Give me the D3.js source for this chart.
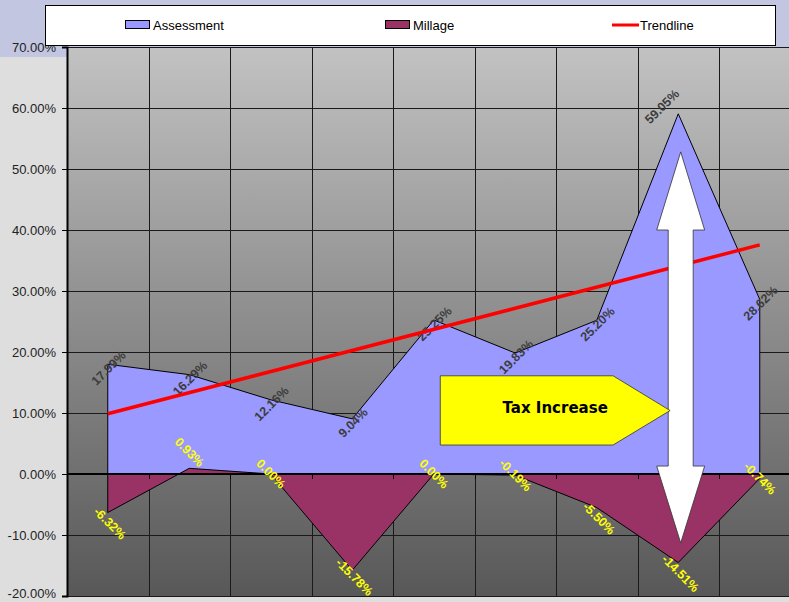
<!DOCTYPE html>
<html>
<head>
<meta charset="utf-8">
<script src="https://cdn.jsdelivr.net/npm/d3@7"></script>
<style>
  body { margin: 0; padding: 0; background: #c3c6e1; }
  svg { display: block; }
</style>
</head>
<body>
<div id="chart"></div>
<script>
// period index of each category (no labels are shown on the x axis)
const periods = [1, 2, 3, 4, 5, 6, 7, 8, 9];
// yearly change in %
const assessment = [17.99, 16.29, 12.16, 9.04, 25.25, 19.83, 25.20, 59.05, 28.62];
const millage = [-6.32, 0.93, 0.00, -15.78, 0.00, -0.19, -5.50, -14.51, -0.74];
// linear trendline of assessment, start and end values
const trendline = [9.87, 37.56];
const yTicks = [-20, -10, 0, 10, 20, 30, 40, 50, 60, 70];

// annotation shapes in data units (x: continuous category position, y: %)
const taxBox = [[4.58, 16.1], [6.70, 16.1], [7.40, 10.4], [6.70, 4.75], [4.58, 4.75]];
const taxLabel = {x: 5.99, y: 10.8, text: "Tax Increase"};
const bigArrow = {x: 7.53, shaft: 0.153, head: 0.294, top: 52.8, topBase: 40, bottomBase: 1.3, bottom: -11.3};

const W = 789, H = 602;
const margin = {top: 47, left: 67, bottom: 596, right: 800.5};

const svg = d3.select("#chart").append("svg")
    .attr("width", W)
    .attr("height", H);

// backgrounds
svg.append("rect").attr("width", W).attr("height", H).attr("fill", "#c3c6e1");
svg.append("rect").attr("x", 0).attr("y", 57).attr("width", W).attr("height", H - 57).attr("fill", "#dedede");

const defs = svg.append("defs");
const grad = defs.append("linearGradient").attr("id", "plotGrad")
    .attr("x1", 0).attr("y1", 0).attr("x2", 0).attr("y2", 1);
grad.append("stop").attr("offset", "0%").attr("stop-color", "#c2c2c2");
grad.append("stop").attr("offset", "100%").attr("stop-color", "#585858");

// scales
const x = d3.scaleLinear().domain([0, periods.length]).range([margin.left, margin.right]);
const y = d3.scaleLinear().domain([-20, 70]).range([margin.bottom, margin.top]);
const cx = i => x(i + 0.5);

svg.append("rect")
    .attr("x", x(0)).attr("y", y(70))
    .attr("width", x(periods.length) - x(0))
    .attr("height", y(-20) - y(70))
    .attr("fill", "url(#plotGrad)");

// gridlines
const grid = svg.append("g").attr("stroke", "#1a1a1a").attr("stroke-width", 1);
grid.selectAll(".hgrid")
    .data(yTicks.filter(d => d !== 0))
    .join("line")
    .attr("x1", x(0)).attr("x2", x(periods.length))
    .attr("y1", d => Math.round(y(d)) + 0.5).attr("y2", d => Math.round(y(d)) + 0.5);
grid.selectAll(".vgrid")
    .data(d3.range(1, periods.length))
    .join("line")
    .attr("x1", d => Math.round(x(d)) + 0.5).attr("x2", d => Math.round(x(d)) + 0.5)
    .attr("y1", y(70)).attr("y2", y(-20));

// areas
const area = d3.area()
    .x((d, i) => cx(i))
    .y0(y(0))
    .y1(d => y(d));

svg.append("path")
    .datum(assessment)
    .attr("d", area)
    .attr("fill", "#9999ff")
    .attr("stroke", "#000")
    .attr("stroke-width", 1);

svg.append("path")
    .datum(millage)
    .attr("d", area)
    .attr("fill", "#993366")
    .attr("stroke", "#000")
    .attr("stroke-width", 1);

// zero axis line with ticks
svg.append("line")
    .attr("x1", x(0)).attr("x2", x(periods.length))
    .attr("y1", y(0)).attr("y2", y(0))
    .attr("stroke", "#000").attr("stroke-width", 2);
svg.selectAll(".xtick")
    .data(d3.range(1, periods.length))
    .join("line")
    .attr("x1", d => Math.round(x(d)) + 0.5).attr("x2", d => Math.round(x(d)) + 0.5)
    .attr("y1", y(0)).attr("y2", y(0) + 5)
    .attr("stroke", "#000");

// y axis
const yAxis = d3.axisLeft(y)
    .tickValues(yTicks)
    .tickFormat(d => d.toFixed(2) + "%")
    .tickSizeOuter(0)
    .tickSize(5)
    .tickPadding(6);

const yg = svg.append("g")
    .attr("transform", `translate(${x(0)},0)`)
    .call(yAxis);
yg.select(".domain").attr("stroke", "#000").attr("stroke-width", 2);
yg.selectAll(".tick line").attr("stroke", "#000");
yg.selectAll(".tick text")
    .attr("fill", "#222")
    .style("font-family", "Arial, 'Liberation Sans', sans-serif")
    .style("font-size", "13px");
// keep the lowest label inside the picture
yg.selectAll(".tick text").filter(d => d === -20).attr("dy", "0.15em");

// data labels
const labelFont = "Arial, 'Liberation Sans', sans-serif";
svg.append("g").selectAll("text")
    .data(assessment)
    .join("text")
    .attr("transform", (d, i) => {
        let dx = i === 7 ? -16 : 1;
        let dy = i === 7 ? -7 : 4;
        return `translate(${cx(i) + dx},${y(d) + dy}) rotate(-45)`;
    })
    .attr("text-anchor", "middle")
    .attr("dominant-baseline", "central")
    .attr("fill", "#3c3c3c")
    .style("font-family", labelFont)
    .style("font-weight", "bold")
    .style("font-size", "12.5px")
    .text(d => d.toFixed(2) + "%");

svg.append("g").selectAll("text")
    .data(millage)
    .join("text")
    .attr("transform", (d, i) => {
        let dy = d < -1 ? (d < -15 ? 7 : 11) : (d > 0.5 ? -16 : 0);
        let dx = d < -1 ? 2 : 0;
        return `translate(${cx(i) + dx},${y(d) + dy}) rotate(45)`;
    })
    .attr("text-anchor", "middle")
    .attr("dominant-baseline", "central")
    .attr("fill", "#ffff00")
    .style("font-family", labelFont)
    .style("font-weight", "bold")
    .style("font-size", "12.5px")
    .text(d => d.toFixed(2) + "%");

// trendline
svg.append("line")
    .attr("x1", cx(0)).attr("y1", y(trendline[0]))
    .attr("x2", cx(periods.length - 1)).attr("y2", y(trendline[1]))
    .attr("stroke", "#ff0000")
    .attr("stroke-width", 3.5);

// double arrow
const a = bigArrow;
const arrowPts = [
    [a.x, a.top], [a.x + a.head, a.topBase], [a.x + a.shaft, a.topBase],
    [a.x + a.shaft, a.bottomBase], [a.x + a.head, a.bottomBase], [a.x, a.bottom],
    [a.x - a.head, a.bottomBase], [a.x - a.shaft, a.bottomBase],
    [a.x - a.shaft, a.topBase], [a.x - a.head, a.topBase]
];
svg.append("path")
    .attr("d", d3.line().x(d => x(d[0])).y(d => y(d[1]))(arrowPts) + "Z")
    .attr("fill", "#ffffff")
    .attr("stroke", "#333")
    .attr("stroke-width", 0.8);

// tax increase box
svg.append("path")
    .attr("d", d3.line().x(d => x(d[0])).y(d => y(d[1]))(taxBox) + "Z")
    .attr("fill", "#ffff00")
    .attr("stroke", "#333")
    .attr("stroke-width", 0.8);
svg.append("text")
    .attr("x", x(taxLabel.x))
    .attr("y", y(taxLabel.y))
    .attr("text-anchor", "middle")
    .attr("dominant-baseline", "central")
    .style("font-family", "Verdana, 'DejaVu Sans', sans-serif")
    .style("font-weight", "bold")
    .style("font-size", "15px")
    .attr("fill", "#000")
    .text(taxLabel.text);

// legend
const legend = svg.append("g");
legend.append("rect")
    .attr("x", 45.5).attr("y", 5.5).attr("width", 730).attr("height", 40)
    .attr("fill", "#fff").attr("stroke", "#000");

const legendItems = [
    {name: "Assessment", color: "#9999ff", x: 125, type: "rect"},
    {name: "Millage", color: "#993366", x: 385, type: "rect"},
    {name: "Trendline", color: "#ff0000", x: 612, type: "line"}
];
legendItems.forEach(item => {
    if (item.type === "rect") {
        legend.append("rect")
            .attr("x", item.x + 0.5).attr("y", 20.5).attr("width", 24).attr("height", 8)
            .attr("fill", item.color).attr("stroke", "#000");
    } else {
        legend.append("line")
            .attr("x1", item.x).attr("x2", item.x + 27)
            .attr("y1", 25).attr("y2", 25)
            .attr("stroke", item.color).attr("stroke-width", 3);
    }
    legend.append("text")
        .attr("x", item.x + 28)
        .attr("y", 25)
        .attr("dominant-baseline", "central")
        .style("font-family", "Arial, 'Liberation Sans', sans-serif")
        .style("font-size", "13px")
        .attr("fill", "#000")
        .text(item.name);
});
</script>
</body>
</html>
